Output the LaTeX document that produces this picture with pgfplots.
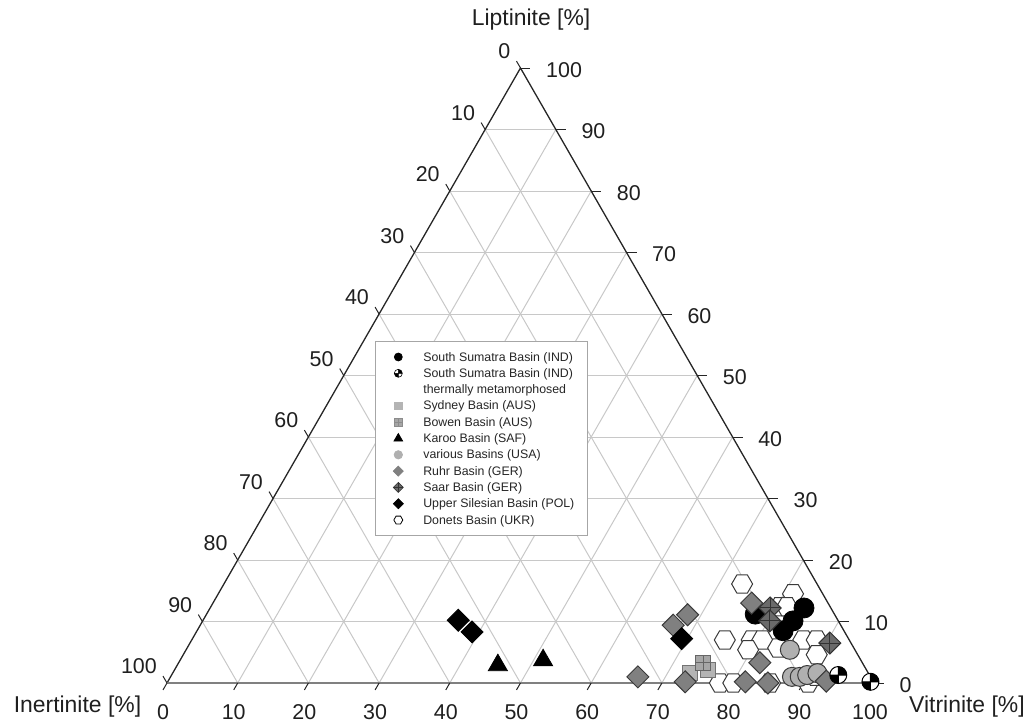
\documentclass[border=0pt]{standalone}
\usepackage{pgfplots}
\usepackage{pgfplotstable}
\pgfplotsset{compat=1.18}
\usepackage{fontspec}
\setmainfont{Liberation Sans}

\definecolor{gridc}{HTML}{C8C8C8}
\definecolor{ruhrc}{HTML}{808080}
\definecolor{saarc}{HTML}{6A6A6A}
\definecolor{sydc}{HTML}{B4B4B4}
\definecolor{bowc}{HTML}{A6A6A6}
\definecolor{usac}{HTML}{B0B0B0}
\definecolor{edgec}{HTML}{3A3A3A}

\pgfdeclareplotmark{hexagon}{%
  \pgfpathmoveto{\pgfpointpolar{0}{\pgfplotmarksize}}%
  \pgfpathlineto{\pgfpointpolar{60}{\pgfplotmarksize}}%
  \pgfpathlineto{\pgfpointpolar{120}{\pgfplotmarksize}}%
  \pgfpathlineto{\pgfpointpolar{180}{\pgfplotmarksize}}%
  \pgfpathlineto{\pgfpointpolar{240}{\pgfplotmarksize}}%
  \pgfpathlineto{\pgfpointpolar{300}{\pgfplotmarksize}}%
  \pgfpathclose
  \pgfusepathqfillstroke}
\pgfdeclareplotmark{rdiamond}{%
  \pgfpathmoveto{\pgfqpoint{0pt}{\pgfplotmarksize}}%
  \pgfpathlineto{\pgfqpoint{\pgfplotmarksize}{0pt}}%
  \pgfpathlineto{\pgfqpoint{0pt}{-\pgfplotmarksize}}%
  \pgfpathlineto{\pgfqpoint{-\pgfplotmarksize}{0pt}}%
  \pgfpathclose
  \pgfusepathqfillstroke}
\pgfdeclareplotmark{rdiamondplus}{%
  \pgfpathmoveto{\pgfqpoint{0pt}{\pgfplotmarksize}}%
  \pgfpathlineto{\pgfqpoint{\pgfplotmarksize}{0pt}}%
  \pgfpathlineto{\pgfqpoint{0pt}{-\pgfplotmarksize}}%
  \pgfpathlineto{\pgfqpoint{-\pgfplotmarksize}{0pt}}%
  \pgfpathclose
  \pgfusepathqfillstroke
  \pgfpathmoveto{\pgfqpoint{-\pgfplotmarksize}{0pt}}%
  \pgfpathlineto{\pgfqpoint{\pgfplotmarksize}{0pt}}%
  \pgfpathmoveto{\pgfqpoint{0pt}{-\pgfplotmarksize}}%
  \pgfpathlineto{\pgfqpoint{0pt}{\pgfplotmarksize}}%
  \pgfusepathqstroke}
\pgfdeclareplotmark{squareplus}{%
  \pgfpathrectanglecorners{\pgfqpoint{-\pgfplotmarksize}{-\pgfplotmarksize}}{\pgfqpoint{\pgfplotmarksize}{\pgfplotmarksize}}%
  \pgfusepathqfillstroke
  \pgfpathmoveto{\pgfqpoint{-\pgfplotmarksize}{0pt}}%
  \pgfpathlineto{\pgfqpoint{\pgfplotmarksize}{0pt}}%
  \pgfpathmoveto{\pgfqpoint{0pt}{-\pgfplotmarksize}}%
  \pgfpathlineto{\pgfqpoint{0pt}{\pgfplotmarksize}}%
  \pgfusepathqstroke}
\pgfdeclareplotmark{quartercirc}{%
  \pgfpathcircle{\pgfpointorigin}{\pgfplotmarksize}%
  \pgfsetfillcolor{white}\pgfusepathqfill
  \pgfpathmoveto{\pgfpointorigin}%
  \pgfpathlineto{\pgfqpoint{\pgfplotmarksize}{0pt}}%
  \pgfpatharc{0}{90}{\pgfplotmarksize}%
  \pgfpathclose
  \pgfpathmoveto{\pgfpointorigin}%
  \pgfpathlineto{\pgfqpoint{-\pgfplotmarksize}{0pt}}%
  \pgfpatharc{180}{270}{\pgfplotmarksize}%
  \pgfpathclose
  \pgfsetfillcolor{black}\pgfusepathqfill
  \pgfpathcircle{\pgfpointorigin}{\pgfplotmarksize}%
  \pgfpathmoveto{\pgfqpoint{-\pgfplotmarksize}{0pt}}%
  \pgfpathlineto{\pgfqpoint{\pgfplotmarksize}{0pt}}%
  \pgfpathmoveto{\pgfqpoint{0pt}{-\pgfplotmarksize}}%
  \pgfpathlineto{\pgfqpoint{0pt}{\pgfplotmarksize}}%
  \pgfusepathqstroke}

% data: V = vitrinite %, L = liptinite % (inertinite = 100 - V - L)
\pgfplotstableread{
V L
73.3 16.1
81.3 14.5
80.5 12.4
81.5 12.4
75.4 7.0
79.2 7.0
80.7 7.0
79.5 5.4
83.6 5.7
86.5 7.0
88.4 7.0
89.6 4.6
78.2 0.0
80.1 0.0
85.3 0.0
90.7 0.0
91.2 1.1
}\donets
\pgfplotstableread{
V L
77.6 11.2
84.0 12.2
83.5 10.1
82.9 8.5
}\sumatra
\pgfplotstableread{
V L
94.3 1.3
99.4 0.2
}\thermal
\pgfplotstableread{
V L
73.2 1.6
75.5 2.1
}\sydney
\pgfplotstableread{
V L
74.2 3.3
}\bowen
\pgfplotstableread{
V L
45.35 2.9
51.35 3.7
}\karoo
\pgfplotstableread{
V L
85.4 5.4
87.9 1.0
89.0 1.0
89.9 1.3
91.2 1.6
}\usa
\pgfplotstableread{
V L
66.1 1.0
66.9 9.4
68.1 11.1
73.2 0.2
76.2 13.0
82.2 3.3
81.7 0.2
85.0 0.0
93.1 0.3
}\ruhr
\pgfplotstableread{
V L
79.2 12.2
80.2 10.1
90.5 6.5
}\saar
\pgfplotstableread{
V L
36.1 10.2
39.0 8.3
69.2 7.2
}\silesia

\begin{document}
\begin{tikzpicture}[
  lab/.style={font=\fontsize{21.5}{25}\selectfont, text=black!88, inner sep=0pt},
  ttl/.style={font=\fontsize{23}{27}\selectfont, text=black!88, inner sep=0pt},
]
\begin{axis}[
  width=1031bp, height=724bp, scale only axis,
  xmin=-23.62, xmax=122.21, ymin=-6.667, ymax=111.06,
  hide axis, clip=false,
  legend cell align=left,
  legend image code/.code={\path[draw=none,fill=none] (0bp,-3bp) rectangle (24bp,3bp); \draw[#1] plot coordinates {(12bp,0bp)};},
  legend style={
    at={(0.3637,0.5290)}, anchor=north west,
    draw=black!35, line width=0.7bp, fill=white,
    font=\fontsize{12.4}{14}\selectfont, text=black!85,
    inner xsep=11bp, inner ysep=7.5bp,
    row sep=0bp,
    nodes={inner xsep=2bp, inner ysep=2.15bp, text height=10bp, text depth=2bp},
    /tikz/every odd column/.append style={column sep=11bp},
  },
]
% frame for bounding box
\path (rel axis cs:0,0) rectangle (rel axis cs:1,1);

% grid
\pgfplotsinvokeforeach{10,20,...,90}{
  \draw[gridc, line width=1bp] (axis cs:{#1/2},{#1}) -- (axis cs:{100-#1/2},{#1});
  \draw[gridc, line width=1bp] (axis cs:#1,0) -- (axis cs:{#1+(100-#1)/2},{100-#1});
  \draw[gridc, line width=1bp] (axis cs:{100-#1},0) -- (axis cs:{(100-#1)/2},{100-#1});
}
% edges
\draw[black!85, line width=1.3bp] (axis cs:0,0) -- (axis cs:50,100) -- (axis cs:100,0);
\draw[black!50, line width=2.2bp] (axis cs:0,0) -- (axis cs:100,0);

% ticks and tick labels
\pgfplotsinvokeforeach{0,10,...,100}{
  \draw[black!85, line width=1bp] (axis cs:{(100-#1)/2},{100-#1}) -- ++(120:8bp);
  \draw[black!85, line width=1bp] (axis cs:{100-#1/2},{#1}) -- ++(0:10bp);
  \draw[black!85, line width=1bp] (axis cs:#1,0) -- ++(240:8bp);
  \node[lab, anchor=south east, xshift=-10bp, yshift=9bp] at (axis cs:{(100-#1)/2},{100-#1}) {#1};
  \node[lab, anchor=west, xshift=25.5bp, yshift=-2bp] at (axis cs:{100-#1/2},{#1}) {#1};
  \node[lab, anchor=north, xshift=-4bp, yshift=-21bp] at (axis cs:#1,0) {#1};
}

% titles
\node[ttl, anchor=base] at (axis cs:51.5,106.9) {Liptinite [\%]};
\node[ttl, anchor=base] at (axis cs:-12.66,-4.72) {Inertinite [\%]};
\node[ttl, anchor=base] at (axis cs:113.15,-4.72) {Vitrinite [\%]};

% data
\addplot[only marks, mark=hexagon, mark size=10.5bp, mark options={fill=white, draw=edgec, line width=1bp}, forget plot]
  table[x expr=\thisrow{V}+0.5*\thisrow{L}, y=L]{\donets};
\addplot[only marks, mark=*, mark size=10bp, mark options={fill=black, draw=black, line width=0.8bp}, forget plot]
  table[x expr=\thisrow{V}+0.5*\thisrow{L}, y=L]{\sumatra};
\addplot[only marks, mark=square*, mark size=7.5bp, mark options={fill=sydc, draw=black!55, line width=1bp}, forget plot]
  table[x expr=\thisrow{V}+0.5*\thisrow{L}, y=L]{\sydney};
\addplot[only marks, mark=squareplus, mark size=7.5bp, mark options={fill=bowc, draw=black!60, line width=1bp}, forget plot]
  table[x expr=\thisrow{V}+0.5*\thisrow{L}, y=L]{\bowen};
\addplot[only marks, mark=triangle*, mark size=11bp, mark options={fill=black, draw=black, line width=0.8bp}, forget plot]
  table[x expr=\thisrow{V}+0.5*\thisrow{L}, y=L]{\karoo};
\addplot[only marks, mark=*, mark size=9.5bp, mark options={fill=usac, draw=edgec, line width=1bp}, forget plot]
  table[x expr=\thisrow{V}+0.5*\thisrow{L}, y=L]{\usa};
\addplot[only marks, mark=rdiamond, mark size=11bp, mark options={fill=ruhrc, draw=edgec, line width=1bp}, forget plot]
  table[x expr=\thisrow{V}+0.5*\thisrow{L}, y=L]{\ruhr};
\addplot[only marks, mark=rdiamondplus, mark size=11bp, mark options={fill=saarc, draw=black!80, line width=1bp}, forget plot]
  table[x expr=\thisrow{V}+0.5*\thisrow{L}, y=L]{\saar};
\addplot[only marks, mark=rdiamond, mark size=11bp, mark options={fill=black, draw=black, line width=0.8bp}, forget plot]
  table[x expr=\thisrow{V}+0.5*\thisrow{L}, y=L]{\silesia};
\addplot[only marks, mark=quartercirc, mark size=8.5bp, mark options={draw=black, line width=1bp}, forget plot]
  table[x expr=\thisrow{V}+0.5*\thisrow{L}, y=L]{\thermal};

% legend
\addlegendimage{only marks, mark=*, mark size=4bp, mark options={fill=black, draw=black}}
\addlegendentry{South Sumatra Basin (IND)}
\addlegendimage{only marks, mark=quartercirc, mark size=4bp, mark options={draw=black, line width=0.6bp}}
\addlegendentry{South Sumatra Basin (IND)}
\addlegendimage{empty legend}
\addlegendentry{thermally metamorphosed}
\addlegendimage{only marks, mark=square*, mark size=3.8bp, mark options={fill=sydc, draw=sydc}}
\addlegendentry{Sydney Basin (AUS)}
\addlegendimage{only marks, mark=squareplus, mark size=3.8bp, mark options={fill=bowc, draw=black!45, line width=0.5bp}}
\addlegendentry{Bowen Basin (AUS)}
\addlegendimage{only marks, mark=triangle*, mark size=5bp, mark options={fill=black, draw=black}}
\addlegendentry{Karoo Basin (SAF)}
\addlegendimage{only marks, mark=*, mark size=4.2bp, mark options={fill=usac, draw=usac}}
\addlegendentry{various Basins (USA)}
\addlegendimage{only marks, mark=rdiamond, mark size=5bp, mark options={fill=ruhrc, draw=ruhrc}}
\addlegendentry{Ruhr Basin (GER)}
\addlegendimage{only marks, mark=rdiamondplus, mark size=5bp, mark options={fill=saarc, draw=black!80, line width=0.6bp}}
\addlegendentry{Saar Basin (GER)}
\addlegendimage{only marks, mark=rdiamond, mark size=5bp, mark options={fill=black, draw=black}}
\addlegendentry{Upper Silesian Basin (POL)}
\addlegendimage{only marks, mark=hexagon, mark size=4.5bp, mark options={fill=white, draw=black, line width=0.8bp}}
\addlegendentry{Donets Basin (UKR)}
\end{axis}
\end{tikzpicture}
\end{document}
